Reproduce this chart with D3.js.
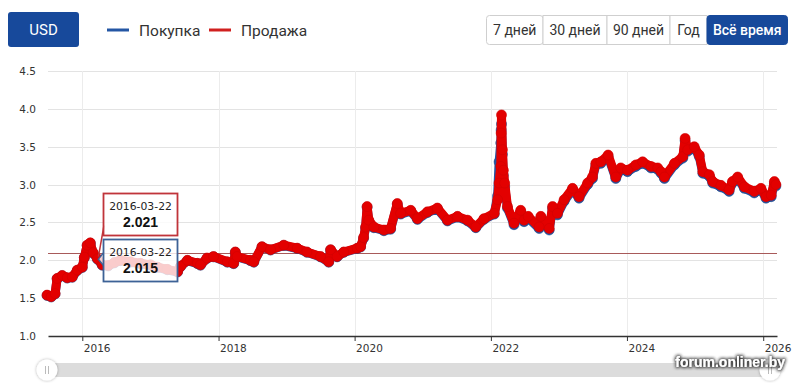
<!DOCTYPE html>
<html>
<head>
<meta charset="utf-8">
<script src="https://cdn.jsdelivr.net/npm/d3@7/dist/d3.min.js"></script>
<style>
  html, body { margin: 0; padding: 0; background: #fff; }
  svg { display: block; }
</style>
</head>
<body>
<svg id="chart" width="800" height="383"></svg>
<script>
// ---------- DATA ----------
const currency = "USD";
const seriesNames = ["Покупка", "Продажа"];
const rangeButtons = ["7 дней", "30 дней", "90 дней", "Год", "Всё время"];
const activeRange = "Всё время";
const yTicks = [1.0, 1.5, 2.0, 2.5, 3.0, 3.5, 4.0, 4.5];
const xTickYears = [2016, 2018, 2020, 2022, 2024, 2026];
const watermark = "forum.onliner.by";

const dates = [
"2015-06-26","2015-07-18","2015-08-08","2015-08-19","2015-09-15","2015-10-12","2015-11-08","2015-12-05",
"2016-01-01","2016-01-12","2016-01-27","2016-02-13","2016-02-28","2016-03-22","2016-04-17","2016-05-19",
"2016-06-21","2016-07-23","2016-09-15","2016-11-08","2017-01-01","2017-02-07","2017-04-01","2017-05-26",
"2017-06-11","2017-07-18","2017-09-10","2017-09-26","2017-10-31","2017-12-05","2018-02-17","2018-03-23",
"2018-04-01","2018-04-10","2018-06-21","2018-07-09","2018-08-22","2018-10-07","2018-12-17","2019-02-27",
"2019-04-20","2019-07-02","2019-08-15","2019-08-25","2019-09-29","2019-11-04","2020-01-15","2020-02-02",
"2020-02-18","2020-02-29","2020-03-08","2020-03-17","2020-04-13","2020-06-06","2020-07-12","2020-08-17",
"2020-09-04","2020-10-28","2020-12-03","2021-01-26","2021-03-20","2021-05-13","2021-07-06","2021-08-29",
"2021-10-12","2021-11-25","2022-01-19","2022-02-06","2022-02-14","2022-02-23","2022-02-25","2022-02-27",
"2022-03-04","2022-03-09","2022-03-16","2022-03-31","2022-05-05","2022-06-10","2022-06-28","2022-07-20",
"2022-09-17","2022-09-26","2022-11-10","2022-11-28","2022-12-24","2023-01-29","2023-03-15","2023-04-19",
"2023-06-04","2023-06-30","2023-07-18","2023-08-14","2023-09-22","2023-11-02","2023-11-29","2024-01-04",
"2024-02-18","2024-03-25","2024-05-09","2024-06-14","2024-07-02","2024-07-20","2024-09-12","2024-10-27",
"2024-11-08","2024-11-22","2024-12-27","2025-01-23","2025-02-11","2025-03-18","2025-04-05","2025-05-19",
"2025-07-02","2025-07-20","2025-08-17","2025-09-22","2025-11-14","2025-12-20","2026-01-16","2026-02-13",
"2026-03-02","2026-03-10"
];

const sellValues = [
1.54,1.52,1.56,1.76,1.80,1.77,1.78,1.87,
1.91,2.04,2.20,2.23,2.10,2.021,1.94,1.93,
1.97,2.00,1.98,1.96,1.94,1.91,1.88,1.85,
1.92,2.00,1.96,1.94,2.03,2.05,1.98,1.96,
2.11,2.05,2.00,1.98,2.18,2.14,2.20,2.16,
2.11,2.05,1.98,2.14,2.05,2.11,2.16,2.18,
2.30,2.44,2.71,2.53,2.44,2.40,2.42,2.75,
2.62,2.66,2.55,2.64,2.69,2.53,2.58,2.53,
2.44,2.55,2.62,2.80,3.02,3.24,3.68,3.92,
3.46,3.19,3.02,2.71,2.49,2.66,2.53,2.58,
2.44,2.58,2.42,2.71,2.62,2.80,2.95,2.84,
3.02,3.10,3.28,3.30,3.39,3.10,3.22,3.19,
3.26,3.30,3.24,3.22,3.17,3.10,3.28,3.37,
3.61,3.46,3.50,3.39,3.17,3.13,3.04,2.99,
2.93,3.04,3.10,2.97,2.91,2.95,2.84,2.86,
3.04,3.00
];

const buyValues = [
1.535,1.515,1.555,1.755,1.795,1.765,1.775,1.865,
1.905,2.035,2.195,2.225,2.095,2.015,1.935,1.925,
1.965,1.995,1.975,1.955,1.935,1.905,1.875,1.845,
1.915,1.995,1.955,1.935,2.025,2.045,1.975,1.955,
2.105,2.045,1.995,1.975,2.175,2.135,2.195,2.155,
2.105,2.045,1.975,2.135,2.045,2.105,2.155,2.175,
2.29,2.43,2.70,2.52,2.43,2.39,2.41,2.74,
2.61,2.65,2.54,2.63,2.68,2.52,2.57,2.52,
2.43,2.54,2.61,2.85,3.30,3.55,3.72,3.80,
3.40,3.12,2.97,2.69,2.47,2.64,2.51,2.56,
2.42,2.56,2.40,2.69,2.60,2.78,2.93,2.82,
3.00,3.08,3.26,3.28,3.37,3.08,3.20,3.17,
3.24,3.28,3.22,3.20,3.15,3.08,3.26,3.35,
3.58,3.44,3.48,3.37,3.15,3.11,3.02,2.97,
2.91,3.02,3.08,2.95,2.89,2.93,2.82,2.84,
3.02,2.98
];

const tooltipDate = "2016-03-22";
const crosshairValue = 2.09;

// ---------- CHART ----------
const svg = d3.select("#chart");
const parse = d3.timeParse("%Y-%m-%d");
const BLUE = "#2456a4";
const RED = "#e30000";
const BTN_BLUE = "#17499b";

const x = d3.scaleTime()
  .domain([parse("2015-07-01"), parse("2026-03-16")])
  .range([48, 777]);
const y = d3.scaleLinear().domain([1.0, 4.5]).range([336, 71]);

const sellData = dates.map((d, i) => ({ date: parse(d), v: sellValues[i] }));
const buyData = dates.map((d, i) => ({ date: parse(d), v: buyValues[i] }));

// ---- header ----
svg.append("rect").attr("x", 8).attr("y", 12).attr("width", 71).attr("height", 35)
  .attr("rx", 3).attr("fill", BTN_BLUE);
svg.append("text").attr("x", 43.5).attr("y", 35).attr("text-anchor", "middle")
  .attr("font-family", "Roboto, 'Open Sans', sans-serif").attr("font-size", 15)
  .attr("fill", "#fff").text(currency);

const legendItems = [
  { name: seriesNames[0], color: BLUE, x: 107 },
  { name: seriesNames[1], color: "#d0201f", x: 209 }
];
legendItems.forEach(l => {
  svg.append("line").attr("x1", l.x).attr("x2", l.x + 22).attr("y1", 30).attr("y2", 30)
    .attr("stroke", l.color).attr("stroke-width", 3);
  svg.append("text").attr("x", l.x + 32).attr("y", 35.5)
    .attr("font-family", "Roboto, 'Open Sans', sans-serif").attr("font-size", 15.5)
    .attr("fill", "#333").text(l.name);
});

// range buttons
const btnEdges = [486, 542.5, 606.5, 669.5, 706.5, 787];
const btnG = svg.append("g");
rangeButtons.forEach((b, i) => {
  const x0 = btnEdges[i], x1 = btnEdges[i + 1];
  const active = b === activeRange;
  btnG.append("rect").attr("x", x0 + 0.5).attr("y", 15.5).attr("width", x1 - x0).attr("height", 29)
    .attr("rx", (i === 0 || i === rangeButtons.length - 1) ? 3 : 0)
    .attr("fill", active ? BTN_BLUE : "#fff")
    .attr("stroke", active ? BTN_BLUE : "#cfcfcf");
  btnG.append("text").attr("x", (x0 + x1) / 2 + 0.5).attr("y", 35)
    .attr("text-anchor", "middle")
    .attr("font-family", "Roboto, 'Open Sans', sans-serif").attr("font-size", 14)
    .attr("font-weight", active ? 500 : 400)
    .attr("fill", active ? "#fff" : "#333").text(b);
});

// ---- grid ----
const grid = svg.append("g");
yTicks.forEach(t => {
  if (t === 1.0) return;
  grid.append("line").attr("x1", 48).attr("x2", 777).attr("y1", Math.round(y(t)) + 0.5).attr("y2", Math.round(y(t)) + 0.5)
    .attr("stroke", "#e3e3e3").attr("stroke-width", 1);
});
xTickYears.forEach(yr => {
  const px = Math.round(x(new Date(yr, 0, 1))) + 0.5;
  grid.append("line").attr("x1", px).attr("x2", px).attr("y1", 71).attr("y2", 336)
    .attr("stroke", "#ececec").attr("stroke-width", 1);
});

// y labels
yTicks.forEach(t => {
  svg.append("text").attr("x", 36).attr("y", y(t) + 4).attr("text-anchor", "end")
    .attr("font-family", "'DejaVu Sans', Verdana, sans-serif").attr("font-size", 10.5)
    .attr("fill", "#333").text(d3.format(".1f")(t));
});

// x axis
const xAxis = d3.axisBottom(x)
  .tickValues(xTickYears.map(yr => new Date(yr, 0, 1)))
  .tickFormat(d3.timeFormat("%Y"))
  .tickSize(5).tickSizeOuter(0);
const gx = svg.append("g").attr("transform", "translate(0,336)").call(xAxis);
gx.select(".domain").attr("stroke", "#333").attr("stroke-width", 1.5);
gx.selectAll(".tick line").attr("stroke", "#333");
gx.selectAll(".tick text")
  .attr("font-family", "'DejaVu Sans', Verdana, sans-serif").attr("font-size", 10.5)
  .attr("fill", "#333").attr("text-anchor", "start").attr("x", 1).attr("y", 9);

// crosshair
svg.append("line").attr("x1", 48).attr("x2", 777)
  .attr("y1", Math.round(y(crosshairValue)) + 0.5).attr("y2", Math.round(y(crosshairValue)) + 0.5)
  .attr("stroke", "#a85a5a").attr("stroke-width", 1);

// ---- series ----
const lineGen = d3.line().x(d => x(d.date)).y(d => y(d.v)).curve(d3.curveLinear);
function drawSeries(data, color, edge) {
  const g = svg.append("g");
  g.append("path").datum(data).attr("d", lineGen).attr("fill", "none")
    .attr("stroke", color).attr("stroke-width", 9)
    .attr("stroke-linejoin", "round").attr("stroke-linecap", "round");
  g.selectAll("circle").data(data).enter().append("circle")
    .attr("cx", d => x(d.date)).attr("cy", d => y(d.v)).attr("r", 5)
    .attr("fill", color).attr("stroke", edge).attr("stroke-width", 0.6);
}
drawSeries(buyData, BLUE, "#1d4a8c");
drawSeries(sellData, RED, "#d00000");

// ---- tooltips ----
const ti = dates.indexOf(tooltipDate);
const ax = x(sellData[ti].date);
const aySell = y(sellData[ti].v);
const ayBuy = y(buyData[ti].v);

function tooltip(x0, y0, w, h, border, dateStr, valStr, anchorX, anchorY, kind) {
  const g = svg.append("g");
  if (kind === "spike") {
    g.append("line").attr("x1", x0 + 0.5).attr("y1", y0 + h - 10).attr("x2", anchorX + 1).attr("y2", anchorY - 2)
      .attr("stroke", border).attr("stroke-width", 1.5);
  } else {
    g.append("path").attr("d", `M${x0 + 0.5},${anchorY - 7} L${anchorX + 1},${anchorY} L${x0 + 0.5},${anchorY + 7}`)
      .attr("fill", "rgba(255,255,255,0.8)").attr("stroke", border).attr("stroke-width", 1.5);
  }
  g.append("rect").attr("x", x0).attr("y", y0).attr("width", w).attr("height", h)
    .attr("fill", "rgba(255,255,255,0.8)").attr("stroke", border).attr("stroke-width", 1.8);
  g.append("text").attr("x", x0 + w / 2).attr("y", y0 + 16).attr("text-anchor", "middle")
    .attr("font-family", "'DejaVu Sans', Verdana, sans-serif").attr("font-size", 10.8)
    .attr("fill", "#222").text(dateStr);
  g.append("text").attr("x", x0 + w / 2).attr("y", y0 + 33).attr("text-anchor", "middle")
    .attr("font-family", "'Liberation Sans', Arial, sans-serif").attr("font-size", 14).attr("font-weight", "bold")
    .attr("fill", "#111").text(valStr);
}
tooltip(103.5, 193.5, 74, 42, "#c0343a", tooltipDate, d3.format(".3f")(sellValues[ti]), ax, aySell, "spike");
tooltip(103.5, 239.5, 74, 42, "#3d6296", tooltipDate, d3.format(".3f")(buyValues[ti]), ax, ayBuy, "notch");

// ---- navigator / scrollbar ----
const defs = svg.append("defs");
const f = defs.append("filter").attr("id", "sh").attr("x", "-50%").attr("y", "-50%").attr("width", "200%").attr("height", "200%");
f.append("feDropShadow").attr("dx", 0).attr("dy", 0).attr("stdDeviation", 1.5).attr("flood-color", "#000").attr("flood-opacity", 0.35);
const f2 = defs.append("filter").attr("id", "wm").attr("x", "-10%").attr("y", "-60%").attr("width", "120%").attr("height", "220%");
f2.append("feMorphology").attr("in", "SourceAlpha").attr("operator", "dilate").attr("radius", 1).attr("result", "d");
f2.append("feGaussianBlur").attr("in", "d").attr("stdDeviation", 1.5).attr("result", "b");
f2.append("feFlood").attr("flood-color", "#222").attr("flood-opacity", 0.85);
f2.append("feComposite").attr("in2", "b").attr("operator", "in").attr("result", "s");
const fm = f2.append("feMerge");
fm.append("feMergeNode").attr("in", "s");
fm.append("feMergeNode").attr("in", "SourceGraphic");

svg.append("rect").attr("x", 42).attr("y", 363).attr("width", 734).attr("height", 14)
  .attr("fill", "#dcdcdc");
[47, 770].forEach(cx => {
  svg.append("circle").attr("cx", cx).attr("cy", 370).attr("r", 10.5)
    .attr("fill", "#fff").attr("filter", "url(#sh)");
  [-1.5, 1.5].forEach(dx => {
    svg.append("line").attr("x1", cx + dx).attr("x2", cx + dx).attr("y1", 366).attr("y2", 374)
      .attr("stroke", "#bbb").attr("stroke-width", 1);
  });
});

svg.append("text").attr("x", 785).attr("y", 367).attr("text-anchor", "end")
  .attr("font-family", "'Liberation Sans', Arial, sans-serif").attr("font-size", 14).attr("font-weight", "bold")
  .attr("fill", "#fff").attr("filter", "url(#wm)").text(watermark);
</script>
</body>
</html>
